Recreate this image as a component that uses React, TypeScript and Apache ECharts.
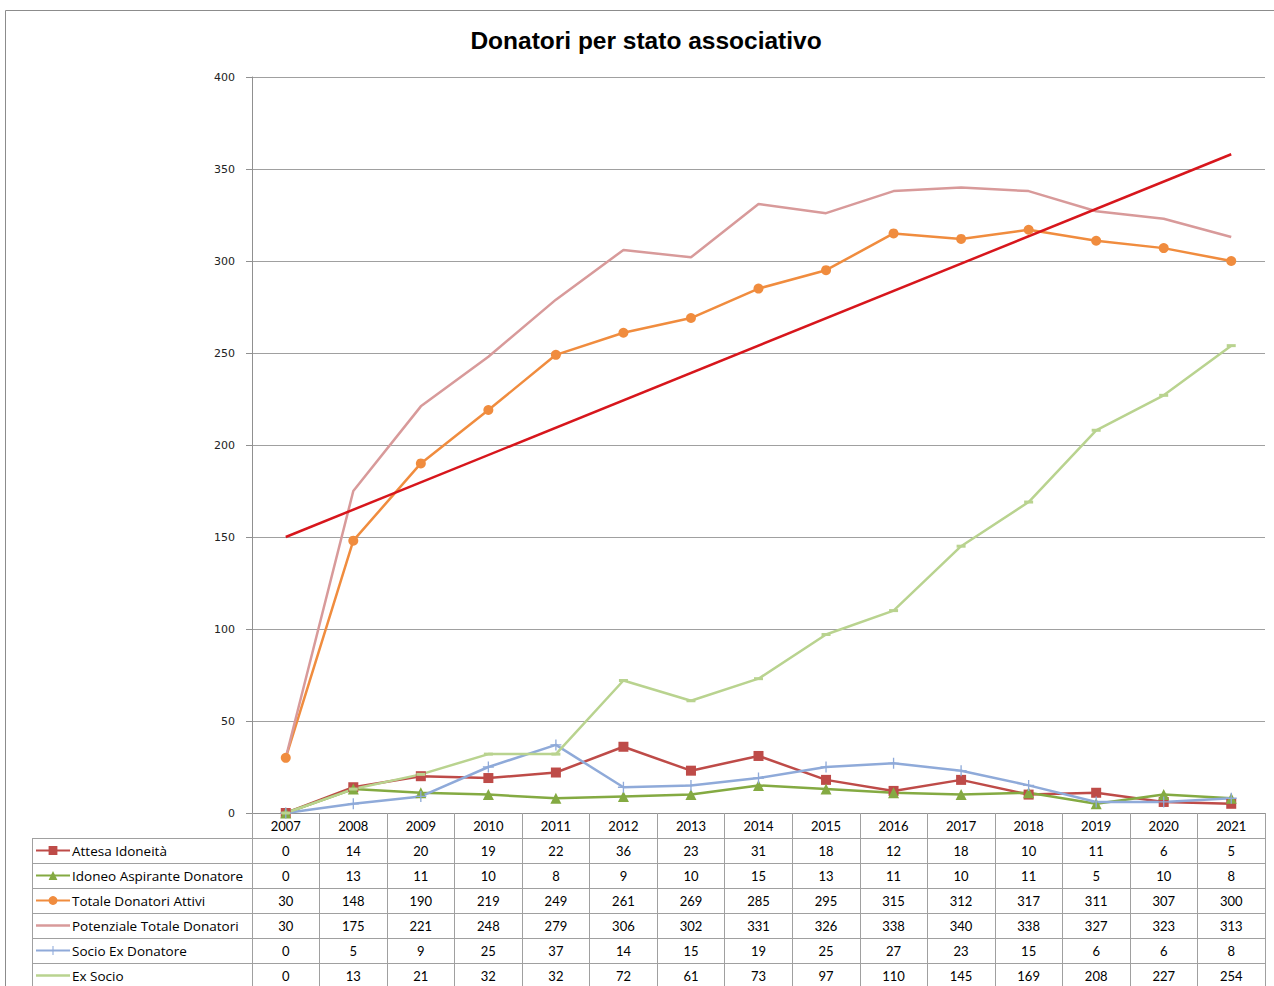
import React, { useEffect, useRef } from "react";
import * as echarts from "echarts";

const years = ["2007", "2008", "2009", "2010", "2011", "2012", "2013", "2014", "2015", "2016", "2017", "2018", "2019", "2020", "2021"];
const attesaIdoneita = [0, 14, 20, 19, 22, 36, 23, 31, 18, 12, 18, 10, 11, 6, 5];
const idoneoAspirante = [0, 13, 11, 10, 8, 9, 10, 15, 13, 11, 10, 11, 5, 10, 8];
const totaleAttivi = [30, 148, 190, 219, 249, 261, 269, 285, 295, 315, 312, 317, 311, 307, 300];
const potenzialeTotale = [30, 175, 221, 248, 279, 306, 302, 331, 326, 338, 340, 338, 327, 323, 313];
const socioExDonatore = [0, 5, 9, 25, 37, 14, 15, 19, 25, 27, 23, 15, 6, 6, 8];
const exSocio = [0, 13, 21, 32, 32, 72, 61, 73, 97, 110, 145, 169, 208, 227, 254];
// linear trend line of "Totale Donatori Attivi", endpoints
const trendValues: (number | null)[] = [150, null, null, null, null, null, null, null, null, null, null, null, null, null, 358];
const yTicks = { min: 0, max: 400, interval: 50 };

const LINE_ICON = "path://M0,0H34V2.5H0Z";
const PLUS = "path://M4.4,0h1.2v4.4h4.4v1.2h-4.4v4.4h-1.2v-4.4h-4.4v-1.2h4.4z";

const seriesDefs = [
  { name: "Attesa Idoneità", data: attesaIdoneita, color: "#BE4B48", symbol: "rect", size: 10 as any, icon: null as string | null },
  { name: "Idoneo Aspirante Donatore", data: idoneoAspirante, color: "#84AA42", symbol: "triangle", size: 11 as any, icon: null },
  { name: "Totale Donatori Attivi", data: totaleAttivi, color: "#F08C3E", symbol: "circle", size: 10 as any, icon: null },
  { name: "Potenziale Totale Donatori", data: potenzialeTotale, color: "#D89A9A", symbol: "none", size: 0 as any, icon: LINE_ICON },
  { name: "Socio Ex Donatore", data: socioExDonatore, color: "#8FAAD9", symbol: PLUS, size: 11 as any, icon: null },
  { name: "Ex Socio", data: exSocio, color: "#B9D38F", symbol: "rect", size: [9, 3] as any, icon: LINE_ICON },
];

const GRID_LEFT = 252;
const GRID_TOP = 77;
const GRID_W = 1013;
const GRID_H = 736;
const ROW_H = 25;
const TABLE_LEFT = 32;
const LINE_COLOR = "#A0A0A0";
const FONT = "Lato, 'Noto Sans', sans-serif";

export default function App() {
  const ref = useRef<HTMLDivElement>(null);
  useEffect(() => {
    document.body.style.margin = "0";
    if (!ref.current) return;
    const chart = echarts.init(ref.current, null, { renderer: "svg" });
    const bottom = GRID_TOP + GRID_H;

    const rowAxes = seriesDefs.map((s, i) => ({
      type: "category" as const,
      gridIndex: 0,
      position: "bottom" as const,
      offset: ROW_H * (i + 1),
      data: years,
      boundaryGap: true,
      axisLine: { show: true, lineStyle: { color: LINE_COLOR, width: 1 } },
      axisTick: { show: true, interval: 0, length: ROW_H, lineStyle: { color: LINE_COLOR } },
      axisLabel: {
        interval: 0,
        margin: 6,
        fontFamily: FONT,
        fontSize: 13,
        color: "#000",
        formatter: (_v: string, idx: number) => String(s.data[idx]),
      },
      splitLine: { show: false },
    }));

    const graphics: any[] = [
      {
        type: "rect",
        shape: { x: 5.5, y: 10.5, width: 1400, height: 1200 },
        style: { fill: "none", stroke: "#8C8C8C", lineWidth: 1 },
        silent: true,
      },
      {
        type: "line",
        shape: { x1: TABLE_LEFT + 0.5, y1: bottom + ROW_H, x2: TABLE_LEFT + 0.5, y2: bottom + ROW_H * 7 },
        style: { stroke: LINE_COLOR, lineWidth: 1 },
        silent: true,
      },
    ];
    for (let i = 1; i <= 7; i++) {
      graphics.push({
        type: "line",
        shape: { x1: TABLE_LEFT, y1: bottom + ROW_H * i + 0.5, x2: GRID_LEFT, y2: bottom + ROW_H * i + 0.5 },
        style: { stroke: LINE_COLOR, lineWidth: 1 },
        silent: true,
      });
    }

    const option: any = {
      animation: false,
      backgroundColor: "#fff",
      title: {
        text: "Donatori per stato associativo",
        left: 641,
        textAlign: "center",
        top: 23,
        textStyle: { fontFamily: "'Liberation Sans', Arial, sans-serif", fontSize: 24.5, fontWeight: "bold", color: "#000" },
      },
      legend: {
        orient: "vertical",
        left: 35,
        top: bottom + ROW_H,
        height: 200,
        padding: 0,
        itemGap: 0,
        itemWidth: 34,
        itemHeight: 11,
        selectedMode: false,
        data: seriesDefs.map((s) => (s.icon ? { name: s.name, icon: s.icon } : { name: s.name })),
        textStyle: { fontFamily: "'Open Sans', Lato, sans-serif", fontSize: 13.5, lineHeight: 25, color: "#000", padding: [0, 0, 0, -3] },
      },
      grid: { left: GRID_LEFT, top: GRID_TOP, width: GRID_W, height: GRID_H, containLabel: false },
      xAxis: [
        {
          type: "category",
          data: years,
          boundaryGap: true,
          position: "bottom",
          axisLine: { show: true, lineStyle: { color: "#909090", width: 1 } },
          axisTick: { show: true, interval: 0, length: ROW_H, lineStyle: { color: LINE_COLOR } },
          axisLabel: { interval: 0, margin: 6, fontFamily: FONT, fontSize: 13, color: "#000" },
          splitLine: { show: false },
        },
        ...rowAxes,
      ],
      yAxis: {
        type: "value",
        min: yTicks.min,
        max: yTicks.max,
        interval: yTicks.interval,
        axisLine: { show: true, lineStyle: { color: "#909090", width: 1 } },
        axisTick: { show: true, length: 6, lineStyle: { color: "#909090" } },
        axisLabel: { margin: 17, fontFamily: "'DejaVu Sans', sans-serif", fontSize: 11, color: "#222" },
        splitLine: { show: true, lineStyle: { color: "#A0A0A0", width: 1 } },
      },
      series: [
        ...seriesDefs.map((s) => ({
          name: s.name,
          type: "line",
          data: s.data,
          xAxisIndex: 0,
          yAxisIndex: 0,
          symbol: s.symbol,
          symbolSize: s.size,
          showSymbol: s.symbol !== "none",
          lineStyle: { color: s.color, width: 2.5 },
          itemStyle: { color: s.color },
          emphasis: { disabled: true },
        })),
        {
          name: "Lineare (Totale Donatori Attivi)",
          type: "line",
          data: trendValues,
          connectNulls: true,
          symbol: "none",
          showSymbol: false,
          lineStyle: { color: "#D7161C", width: 2.5 },
          itemStyle: { color: "#D7161C" },
          emphasis: { disabled: true },
          silent: true,
        },
      ],
      graphic: graphics,
    };
    chart.setOption(option);
    return () => chart.dispose();
  }, []);
  return <div ref={ref} style={{ width: 1274, height: 986 }} />;
}
